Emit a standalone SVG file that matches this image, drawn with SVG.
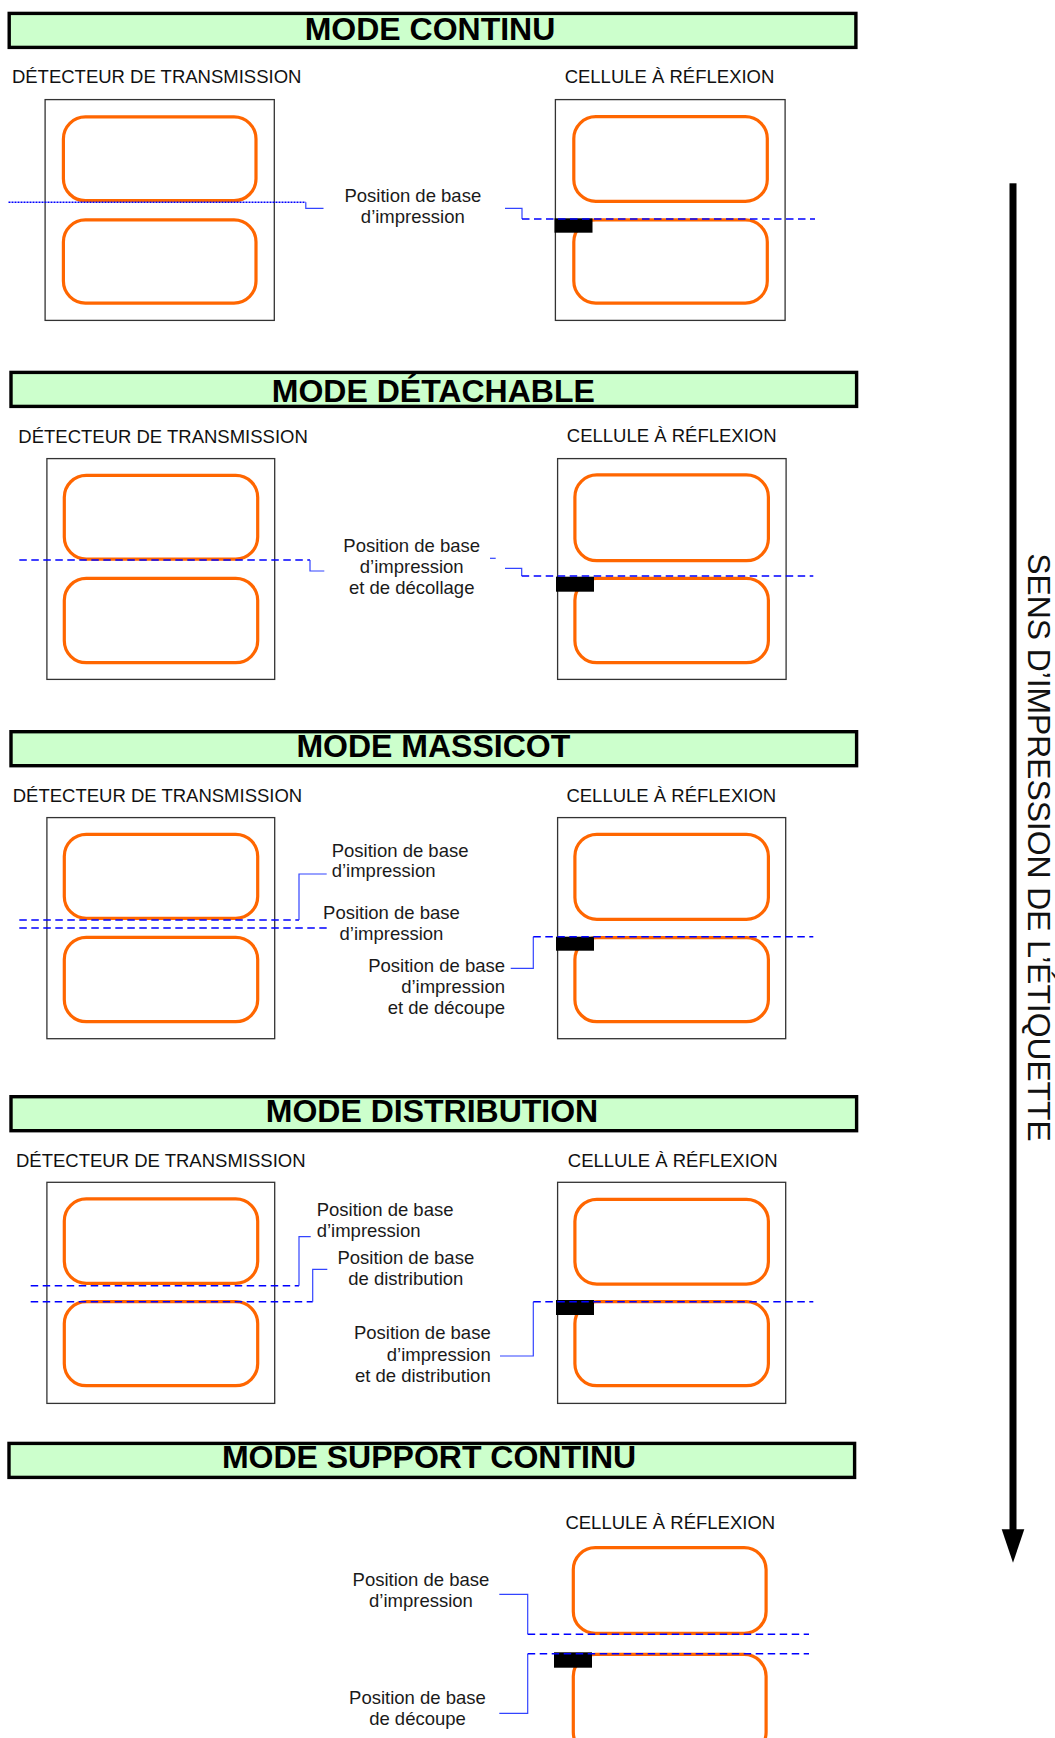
<svg xmlns="http://www.w3.org/2000/svg" width="1055" height="1738" viewBox="0 0 1055 1738">
<style>
.hdr{fill:#ccffcc;stroke:#000;stroke-width:3.4}
.ttl{font-family:"Liberation Sans",Arial,sans-serif;font-weight:bold;font-size:32px;fill:#000;text-anchor:middle}
.sub{font-family:"Liberation Sans",Arial,sans-serif;font-size:18.5px;fill:#111}
.lbl{font-family:"Liberation Sans",Arial,sans-serif;font-size:18.5px;fill:#1a1a1a}
.mid{text-anchor:middle}
.end{text-anchor:end}
.box{fill:none;stroke:#333;stroke-width:1.3}
.tag{fill:none;stroke:#ff6600;stroke-width:3.2}
.sen{fill:#000}
.dash{fill:none;stroke:#0000ff;stroke-width:1.6;stroke-dasharray:7.5 4.5}
.dot{fill:none;stroke:#0000ff;stroke-width:1.6;stroke-dasharray:2 1}
.conn{fill:none;stroke:#3344ff;stroke-width:1.2}
</style>

<!-- MODE CONTINU -->
<g id="hdr-continu"><rect class="hdr" x="9.2" y="13.4" width="846.7" height="34"/><text class="ttl" x="430" y="40">MODE CONTINU</text></g>
<g id="continu-trans">
<text class="sub" x="11.9" y="82.7">DÉTECTEUR DE TRANSMISSION</text>
<rect class="box" x="45.1" y="99.6" width="229.2" height="220.8"/>
<rect class="tag" x="63.4" y="116.9" width="192.6" height="83.8" rx="22"/>
<rect class="tag" x="63.4" y="219.9" width="192.6" height="83.2" rx="22"/>
</g>
<g id="continu-refl">
<text class="sub mid" x="669.5" y="82.7">CELLULE À RÉFLEXION</text>
<rect class="box" x="555.4" y="99.6" width="229.7" height="220.8"/>
<rect class="tag" x="573.8" y="116.6" width="193.5" height="84.8" rx="22"/>
<rect class="tag" x="573.8" y="219.9" width="193.5" height="83.2" rx="22"/>
<rect class="sen" x="554.5" y="218.3" width="38" height="14.4"/>
</g>
<g id="continu-label"><text class="lbl mid" x="412.8" y="201.7">Position de base</text><text class="lbl mid" x="412.8" y="223.3">d’impression</text></g>

<!-- MODE DÉTACHABLE -->
<g id="hdr-detachable"><rect class="hdr" x="11" y="372.4" width="845.6" height="34"/><text class="ttl" x="433.3" y="401.7">MODE DÉTACHABLE</text></g>
<g id="detachable-trans">
<text class="sub" x="18.3" y="443.3">DÉTECTEUR DE TRANSMISSION</text>
<rect class="box" x="46.9" y="458.6" width="227.8" height="220.8"/>
<rect class="tag" x="64.3" y="475.3" width="193.4" height="83.8" rx="22"/>
<rect class="tag" x="64.3" y="578.3" width="193.4" height="84.4" rx="22"/>
</g>
<g id="detachable-refl">
<text class="sub mid" x="671.7" y="442.3">CELLULE À RÉFLEXION</text>
<rect class="box" x="557.6" y="458.6" width="228.5" height="220.8"/>
<rect class="tag" x="574.9" y="474.9" width="193.5" height="85.8" rx="22"/>
<rect class="tag" x="574.9" y="578.3" width="193.5" height="84.4" rx="22"/>
<rect class="sen" x="556" y="576.7" width="38" height="15"/>
</g>
<g id="detachable-label"><text class="lbl mid" x="411.7" y="552.3">Position de base</text><text class="lbl mid" x="411.7" y="573.3">d’impression</text><text class="lbl mid" x="411.7" y="594">et de décollage</text></g>

<!-- MODE MASSICOT -->
<g id="hdr-massicot"><rect class="hdr" x="11" y="731.7" width="845.6" height="34"/><text class="ttl" x="433.3" y="756.7">MODE MASSICOT</text></g>
<g id="massicot-trans">
<text class="sub" x="12.7" y="801.7">DÉTECTEUR DE TRANSMISSION</text>
<rect class="box" x="46.9" y="817.6" width="227.8" height="221.1"/>
<rect class="tag" x="64.3" y="834.3" width="193.4" height="84.1" rx="22"/>
<rect class="tag" x="64.3" y="937.3" width="193.4" height="84.4" rx="22"/>
</g>
<g id="massicot-refl">
<text class="sub mid" x="671.3" y="801.7">CELLULE À RÉFLEXION</text>
<rect class="box" x="557.6" y="817.6" width="228.1" height="221.1"/>
<rect class="tag" x="574.9" y="834.3" width="193.5" height="85.1" rx="22"/>
<rect class="tag" x="574.9" y="937.6" width="193.5" height="84.1" rx="22"/>
<rect class="sen" x="556" y="936.7" width="38" height="14"/>
</g>
<g id="massicot-label1"><text class="lbl" x="331.7" y="856.7">Position de base</text><text class="lbl" x="331.7" y="877.3">d’impression</text></g>
<g id="massicot-label2"><text class="lbl mid" x="391.5" y="919">Position de base</text><text class="lbl mid" x="391.5" y="940">d’impression</text></g>
<g id="massicot-label3"><text class="lbl end" x="505" y="971.7">Position de base</text><text class="lbl end" x="505" y="992.7">d’impression</text><text class="lbl end" x="505" y="1014.3">et de découpe</text></g>

<!-- MODE DISTRIBUTION -->
<g id="hdr-distribution"><rect class="hdr" x="11" y="1096.7" width="845.6" height="34"/><text class="ttl" x="432" y="1121.7">MODE DISTRIBUTION</text></g>
<g id="distribution-trans">
<text class="sub" x="16" y="1167.3">DÉTECTEUR DE TRANSMISSION</text>
<rect class="box" x="46.9" y="1182.3" width="227.8" height="221.1"/>
<rect class="tag" x="64.3" y="1198.9" width="193.4" height="84.5" rx="22"/>
<rect class="tag" x="64.3" y="1301.6" width="193.4" height="84.1" rx="22"/>
</g>
<g id="distribution-refl">
<text class="sub mid" x="672.7" y="1167.3">CELLULE À RÉFLEXION</text>
<rect class="box" x="557.6" y="1182.3" width="228.1" height="221.1"/>
<rect class="tag" x="574.9" y="1199.3" width="193.5" height="84.8" rx="22"/>
<rect class="tag" x="574.9" y="1301.6" width="193.5" height="84.1" rx="22"/>
<rect class="sen" x="556" y="1300" width="38" height="15"/>
</g>
<g id="distribution-label1"><text class="lbl" x="316.7" y="1216">Position de base</text><text class="lbl" x="316.7" y="1236.7">d’impression</text></g>
<g id="distribution-label2"><text class="lbl mid" x="405.8" y="1264">Position de base</text><text class="lbl mid" x="405.8" y="1285">de distribution</text></g>
<g id="distribution-label3"><text class="lbl end" x="490.7" y="1339">Position de base</text><text class="lbl end" x="490.7" y="1361">d’impression</text><text class="lbl end" x="490.7" y="1381.7">et de distribution</text></g>

<!-- MODE SUPPORT CONTINU -->
<g id="hdr-support"><rect class="hdr" x="9" y="1443.4" width="845.6" height="34"/><text class="ttl" x="429" y="1468.3">MODE SUPPORT CONTINU</text></g>
<g id="support-refl">
<text class="sub mid" x="670.3" y="1529.3">CELLULE À RÉFLEXION</text>
<rect class="tag" x="573.3" y="1547.6" width="192.8" height="85.8" rx="22"/>
<rect class="tag" x="573.3" y="1654.3" width="192.8" height="100" rx="22"/>
<rect class="sen" x="554" y="1652.3" width="38" height="15.4"/>
</g>
<g id="support-label1"><text class="lbl mid" x="421" y="1586">Position de base</text><text class="lbl mid" x="421" y="1606.7">d’impression</text></g>
<g id="support-label2"><text class="lbl mid" x="417.5" y="1704">Position de base</text><text class="lbl mid" x="417.5" y="1725">de découpe</text></g>

<!-- connectors -->
<g id="connectors">
<path class="dot" d="M8.5,202.3 H305.8"/>
<path class="conn" d="M305.8,202.3 V208.3 H323.5"/>
<path class="conn" d="M505,208.3 H522 V219"/>
<path class="dash" d="M522,219 H815"/>

<path class="dash" d="M19.3,560 H310"/>
<path class="conn" d="M310,560 V571 H324.3"/>
<path class="conn" d="M490,558.3 H495.7"/>
<path class="conn" d="M505,568.3 H521.7 V576"/>
<path class="dash" d="M521.7,576 H813.3"/>

<path class="dash" d="M19.3,920 H299"/>
<path class="conn" d="M299,920 V874 H326.7"/>
<path class="dash" d="M19.3,928 H326.7"/>
<path class="conn" d="M510.7,968.3 H533.3 V936.7"/>
<path class="dash" d="M533.3,936.7 H813.3"/>

<path class="dash" d="M30.7,1285.7 H299"/>
<path class="conn" d="M299,1285.7 V1236.7 H310.7"/>
<path class="dash" d="M30.7,1301.7 H312.7"/>
<path class="conn" d="M312.7,1301.7 V1269.3 H327.3"/>
<path class="conn" d="M500,1356 H533.3 V1301.7"/>
<path class="dash" d="M533.3,1301.7 H813.3"/>

<path class="conn" d="M499.3,1594.3 H527.7 V1634.3"/>
<path class="dash" d="M527.7,1634.3 H809"/>
<path class="conn" d="M499.3,1713.3 H527.7 V1653.7"/>
<path class="dash" d="M527.7,1653.7 H809"/>
</g>

<!-- direction arrow -->
<g id="direction">
<rect x="1009.5" y="183.3" width="7" height="1347" fill="#000"/>
<polygon points="1001.7,1529.3 1024.3,1529.3 1013,1562.7" fill="#000"/>
<text transform="translate(1027.7,553.3) rotate(90)" font-family="'Liberation Sans',Arial,sans-serif" font-size="31.8" fill="#111">SENS D’IMPRESSION DE L’ÉTIQUETTE</text>
</g>
</svg>
